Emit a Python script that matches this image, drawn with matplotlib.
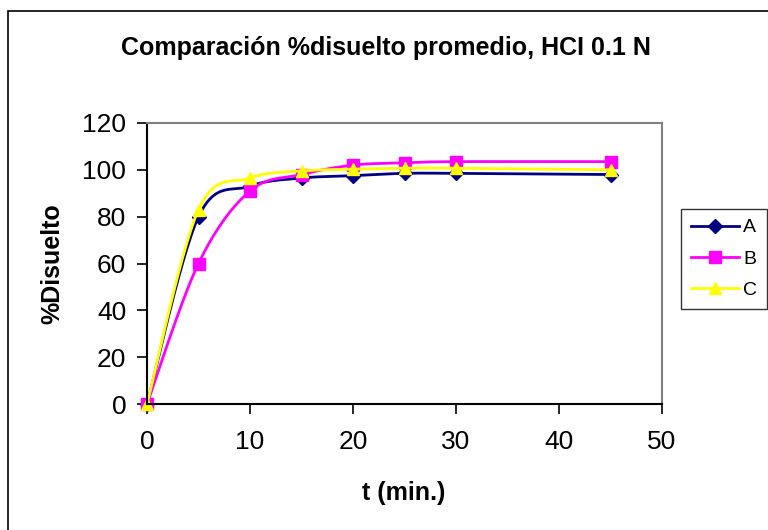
import numpy as np
import matplotlib
matplotlib.use("Agg")
import matplotlib.pyplot as plt
from matplotlib.patches import Rectangle

plt.rcParams['font.family'] = ['Liberation Sans', 'DejaVu Sans']

# dissolution data, minutes vs % dissolved
t = [0, 5, 10, 15, 20, 25, 30, 45]
serie_a = [0, 80, 93, 96.5, 97.5, 98.5, 98.5, 98]
serie_b = [0, 60, 91, 98, 102, 103, 103.5, 103.5]
serie_c = [0, 83, 96.5, 99.5, 100.3, 100.7, 100.7, 100]
nombres = ['A', 'B', 'C']
colores = ['#000080', '#FF00FF', '#FFFF00']
marcadores = ['D', 's', '^']

x_ticks = [0, 10, 20, 30, 40, 50]
y_ticks = [0, 20, 40, 60, 80, 100, 120]


def suavizar(x, y, n=30, sx=50.0, sy=120.0):
    # bezier smoothing through each point (control points from neighbours)
    p = np.column_stack([np.array(x, float) / sx, np.array(y, float) / sy])
    pts = []
    for i in range(len(p) - 1):
        p0 = p[i - 1] if i > 0 else p[i]
        p1, p2 = p[i], p[i + 1]
        p3 = p[i + 2] if i + 2 < len(p) else p[i + 1]
        c1 = p1 + (p2 - p0) / 6.0
        c2 = p2 - (p3 - p1) / 6.0
        s = np.linspace(0, 1, n)[:, None]
        seg = ((1 - s) ** 3) * p1 + 3 * ((1 - s) ** 2) * s * c1 + 3 * (1 - s) * s ** 2 * c2 + s ** 3 * p2
        pts.append(seg if i == 0 else seg[1:])
    pts = np.vstack(pts)
    return pts[:, 0] * sx, pts[:, 1] * sy


fig = plt.figure(figsize=(7.68, 5.30), dpi=100)
ax = fig.add_axes([147 / 768, 1 - 404 / 530, 515 / 768, 281 / 530])

# outer chart border
fig.patches.append(Rectangle((8 / 768, -0.1), 1.2, 1.1 - 11 / 530, transform=fig.transFigure,
                             fill=False, edgecolor='black', linewidth=1.2))

for serie, nombre, color, m in zip([serie_a, serie_b, serie_c], nombres, colores, marcadores):
    xs, ys = suavizar(t, serie)
    ax.plot(xs, ys, color=color, linewidth=2.0, clip_on=False)
    ax.plot(t, serie, linestyle='none', marker=m, color=color, markersize=8 if m != 'D' else 7,
            clip_on=False)
    ax.plot([], [], color=color, linewidth=2.0, marker=m, markersize=8 if m != 'D' else 7, label=nombre)

ax.set_xlim(0, 50)
ax.set_ylim(0, 120)
ax.set_xticks(x_ticks)
ax.set_yticks(y_ticks)
ax.tick_params(axis='both', direction='out', length=7, width=1.2, labelsize=19, color='black')
ax.tick_params(axis='x', pad=12)
ax.tick_params(axis='y', pad=8)
for lado in ['left', 'bottom']:
    ax.spines[lado].set_color('black')
    ax.spines[lado].set_linewidth(1.5)
for lado in ['top', 'right']:
    ax.spines[lado].set_color('#808080')
    ax.spines[lado].set_linewidth(1.5)

fig.text(386 / 768, 1 - 48 / 530, 'Comparación %disuelto promedio, HCI 0.1 N',
         ha='center', va='center', fontsize=18, fontweight='bold')
fig.text(52 / 768, 1 - 264 / 530, '%Disuelto', rotation=90, ha='center', va='center',
         fontsize=18, fontweight='bold')
fig.text(404 / 768, 1 - 493 / 530, 't (min.)', ha='center', va='center',
         fontsize=18, fontweight='bold')

leg = fig.legend(loc='upper left', bbox_to_anchor=(681 / 768, 1 - 209 / 530), fontsize=14,
                 frameon=True, fancybox=False, edgecolor='black', handlelength=2.5,
                 handletextpad=0.2, borderpad=0.5, labelspacing=0.7, borderaxespad=0)
leg.get_frame().set_linewidth(1.0)

fig.savefig('out.png', dpi=100)
